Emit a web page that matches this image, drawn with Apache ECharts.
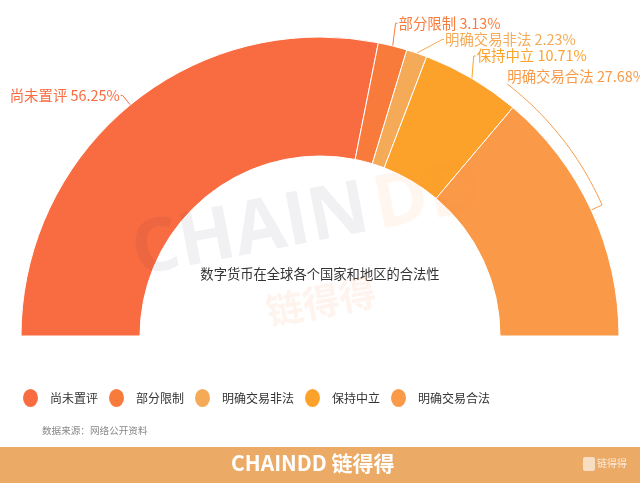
<!DOCTYPE html>
<html>
<head>
<meta charset="utf-8">
<script src="https://cdn.jsdelivr.net/npm/echarts@6/dist/echarts.min.js"></script>
<style>
html,body{margin:0;padding:0;background:#fff;}
#chart{width:640px;height:483px;}
</style>
</head>
<body>
<div id="chart"></div>
<script>
const categories = ['尚未置评', '部分限制', '明确交易非法', '保持中立', '明确交易合法'];
const values = [56.25, 3.13, 2.23, 10.71, 27.68];
const colors = ['#F96C41', '#F97B3C', '#F4AA56', '#FCA22B', '#FA9A48'];
const titleText = '数字货币在全球各个国家和地区的合法性';
const sourceText = '数据来源：网络公开资料';

const FONT = '"Noto Sans CJK SC", "Noto Sans", sans-serif';
const chart = echarts.init(document.getElementById('chart'));
const ellipse = 'path://M10,0A10,10,0,1,1,10,20A10,10,0,1,1,10,0Z';
const wmRot = 0.19;
const wmX = 140, wmY = 291, wmLen = 246;

// pie geometry (layout constants)
const CX = 320, CY = 336, R_IN = 180, R_OUT = 299, LINE_LEN = 12;
const SER_TOP = 15;
const total = values.reduce((a, b) => a + b, 0);

// bracket-like curved label line for the last slice, derived from its mid angle
function arcLine(params) {
  const i = params.dataIndex;
  if (i !== categories.length - 1) return {};
  let before = 0;
  for (let k = 0; k < i; k++) before += values[k];
  const mid = Math.PI - (before + values[i] / 2) / total * Math.PI;
  const p0 = [CX + R_OUT * Math.cos(mid), CY - R_OUT * Math.sin(mid)];
  const r1 = R_OUT + LINE_LEN;
  const lr = params.labelRect;
  const end = [lr.x, lr.y + lr.height];
  const aEnd = Math.atan2(CY - end[1], end[0] - CX);
  const pts = [p0];
  const n = 24;
  for (let k = 0; k <= n; k++) {
    const a = mid + (aEnd - mid) * k / n;
    const rr = r1 + (Math.hypot(end[0] - CX, end[1] - CY) - r1) * k / n;
    pts.push([CX + rr * Math.cos(a), CY - rr * Math.sin(a)]);
  }
  return { labelLinePoints: pts };
}

chart.setOption({
  animation: false,
  color: colors,
  title: {
    text: titleText,
    left: 'center',
    top: 262,
    textStyle: { fontFamily: FONT, fontSize: 13.3, fontWeight: 'normal', color: '#333' }
  },
  legend: {
    left: 16,
    top: 382,
    icon: ellipse,
    symbolKeepAspect: false,
    itemWidth: 17,
    itemHeight: 20,
    itemGap: 9,
    data: categories,
    textStyle: { fontFamily: FONT, fontSize: 12, color: '#333', padding: [0, 0, 0, 6] }
  },
  graphic: [
    { type: 'text', z: 100, x: wmX, y: wmY, rotation: wmRot, silent: true,
      style: { text: 'CHAIN', font: 'bold 74px "Open Sans", sans-serif', fill: 'rgba(20,20,60,0.06)', textVerticalAlign: 'bottom' } },
    { type: 'text', z: 100, x: wmX + wmLen * Math.cos(wmRot), y: wmY - wmLen * Math.sin(wmRot), rotation: wmRot, silent: true,
      style: { text: 'DD', font: 'bold 74px "Open Sans", sans-serif', fill: 'rgba(250,140,60,0.08)', textVerticalAlign: 'bottom' } },
    { type: 'text', z: 100, x: 270, y: 330, rotation: wmRot, silent: true,
      style: { text: '链得得', font: 'bold 37px "Noto Sans CJK SC", sans-serif', fill: 'rgba(250,140,80,0.10)', textVerticalAlign: 'bottom' } },
    { type: 'text', left: 42, top: 426,
      style: { text: sourceText, font: '9.6px "Noto Sans CJK SC", sans-serif', fill: '#888' } },
    { type: 'rect', left: 0, top: 447, shape: { width: 640, height: 36 }, style: { fill: '#ECAA67' } },
    { type: 'text', left: 231, top: 453,
      style: { text: 'CHAINDD 链得得', font: 'bold 21px "Noto Sans CJK SC", sans-serif', fill: '#fff' } },
    { type: 'text', left: 597, top: 458,
      style: { text: '链得得', font: '10px "Noto Sans CJK SC", sans-serif', fill: 'rgba(255,255,255,0.75)' } },
    { type: 'rect', left: 583, top: 457, shape: { width: 12, height: 14, r: 2 }, style: { fill: 'rgba(255,255,255,0.6)' } }
  ],
  series: [{
    type: 'pie',
    left: 0,
    top: SER_TOP,
    width: 640,
    height: 70,
    center: [CX, CY - SER_TOP],
    radius: [R_IN, R_OUT],
    startAngle: 180,
    endAngle: 0,
    clockwise: true,
    avoidLabelOverlap: true,
    itemStyle: { borderColor: '#fff', borderWidth: 1 },
    label: {
      show: true,
      position: 'outside',
      formatter: '{b} {c}%',
      fontFamily: FONT,
      fontSize: 14.4,
      overflow: 'none',
      distanceToLabelLine: 1,
      color: 'inherit'
    },
    labelLine: { length: LINE_LEN, length2: 2, lineStyle: { width: 1 } },
    labelLayout: arcLine,
    data: categories.map((n, i) => ({ name: n, value: values[i] }))
  }]
});
</script>
</body>
</html>
